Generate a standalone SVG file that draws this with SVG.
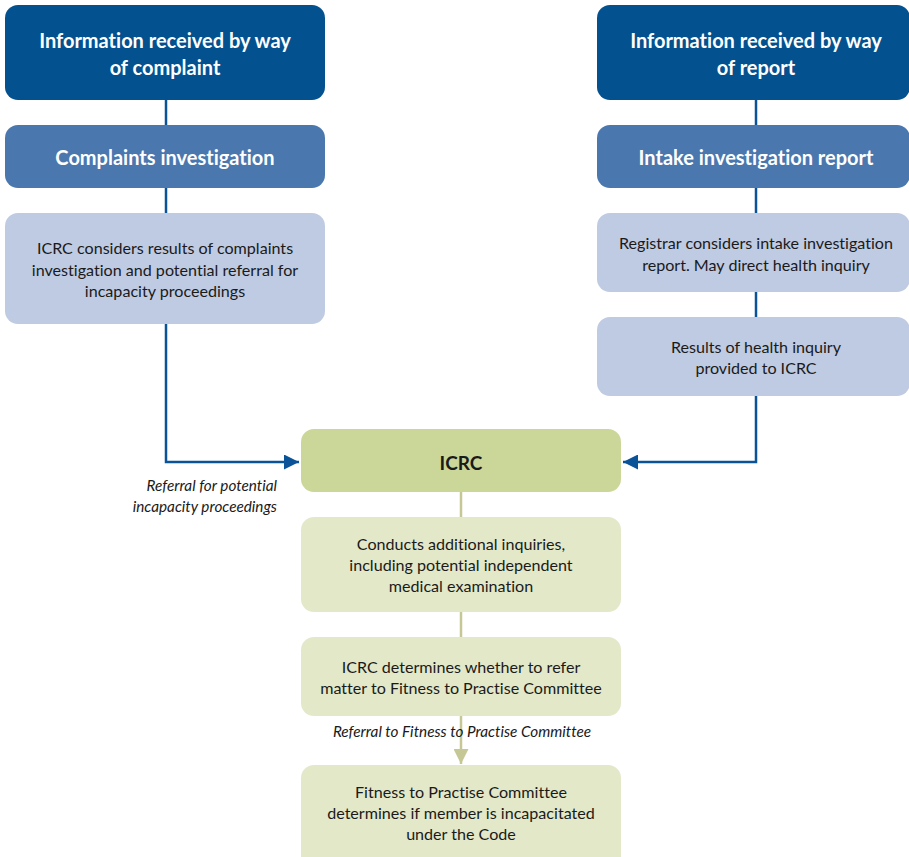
<svg xmlns="http://www.w3.org/2000/svg" width="909" height="857" viewBox="0 0 909 857">
  <defs>
    <style>
      .dark { fill: #03518F; }
      .mid { fill: #4A77AE; }
      .light { fill: #BFCBE2; }
      .icrc { fill: #CBD699; }
      .pale { fill: #E3E8C8; }
      text { font-family: Lato, "Liberation Sans", sans-serif; font-variant-ligatures: none; font-feature-settings: "liga" 0, "clig" 0; }
      .head { font-weight: bold; font-size: 20px; fill: #FFFFFF; text-anchor: middle; }
      .body { font-size: 16.1px; fill: #1A1A1A; text-anchor: middle; }
      .title { font-weight: bold; font-size: 19px; fill: #1A1A1A; text-anchor: middle; }
      .note { font-style: italic; font-size: 15.3px; fill: #1A1A1A; }
      .blue-line { stroke: #0A5399; stroke-width: 2.5; fill: none; }
      .green-line { stroke: #C5C895; stroke-width: 2.5; fill: none; }
    </style>
    <marker id="arrow-blue" viewBox="0 0 10 10" refX="10" refY="5" markerUnits="userSpaceOnUse" markerWidth="19" markerHeight="15" orient="auto">
      <path d="M0,0 L10,5 L0,10 Z" fill="#0A5399"/>
    </marker>
    <marker id="arrow-green" viewBox="0 0 10 10" refX="10" refY="5" markerUnits="userSpaceOnUse" markerWidth="19" markerHeight="15" orient="auto">
      <path d="M0,0 L10,5 L0,10 Z" fill="#C5C895"/>
    </marker>
  </defs>

  <rect width="909" height="857" fill="#FFFFFF"/>

  <!-- connectors -->
  <g id="connectors">
    <line class="blue-line" x1="166" y1="100" x2="166" y2="125"/>
    <line class="blue-line" x1="166" y1="188" x2="166" y2="213"/>
    <polyline class="blue-line" points="166,324 166,462 299,462" marker-end="url(#arrow-blue)"/>
    <line class="blue-line" x1="756" y1="100" x2="756" y2="125"/>
    <line class="blue-line" x1="756" y1="188" x2="756" y2="213"/>
    <line class="blue-line" x1="756" y1="292" x2="756" y2="317"/>
    <polyline class="blue-line" points="756,396 756,462 623,462" marker-end="url(#arrow-blue)"/>
    <line class="green-line" x1="461" y1="492" x2="461" y2="517"/>
    <line class="green-line" x1="461" y1="612" x2="461" y2="637"/>
    <line class="green-line" x1="461" y1="716" x2="461" y2="764" marker-end="url(#arrow-green)"/>
  </g>

  <!-- left column: complaint path -->
  <g id="complaint">
    <rect class="dark" x="5" y="5" width="320" height="95" rx="13"/>
    <text class="head" x="165" y="48">Information received by way</text>
    <text class="head" x="165" y="75">of complaint</text>
  </g>
  <g id="complaints-investigation">
    <rect class="mid" x="5" y="125" width="320" height="63" rx="13"/>
    <text class="head" x="165" y="165">Complaints investigation</text>
  </g>
  <g id="icrc-considers">
    <rect class="light" x="5" y="213" width="320" height="111" rx="13"/>
    <text class="body" x="165" y="254">ICRC considers results of complaints</text>
    <text class="body" x="165" y="276">investigation and potential referral for</text>
    <text class="body" x="165" y="297">incapacity proceedings</text>
  </g>

  <!-- right column: report path -->
  <g id="report">
    <rect class="dark" x="597" y="5" width="313" height="95" rx="13"/>
    <text class="head" x="756" y="48">Information received by way</text>
    <text class="head" x="756" y="75">of report</text>
  </g>
  <g id="intake-report">
    <rect class="mid" x="597" y="125" width="313" height="63" rx="13"/>
    <text class="head" x="756" y="165">Intake investigation report</text>
  </g>
  <g id="registrar">
    <rect class="light" x="597" y="213" width="313" height="79" rx="13"/>
    <text class="body" x="756" y="249">Registrar considers intake investigation</text>
    <text class="body" x="756" y="271">report. May direct health inquiry</text>
  </g>
  <g id="health-results">
    <rect class="light" x="597" y="317" width="313" height="79" rx="13"/>
    <text class="body" x="756" y="353">Results of health inquiry</text>
    <text class="body" x="756" y="374">provided to ICRC</text>
  </g>

  <!-- centre column: ICRC and committee -->
  <g id="icrc">
    <rect class="icrc" x="301" y="429" width="320" height="63" rx="13"/>
    <text class="title" x="461" y="470">ICRC</text>
  </g>
  <g id="referral-note">
    <text class="note" x="277" y="491" text-anchor="end">Referral for potential</text>
    <text class="note" x="277" y="512" text-anchor="end">incapacity proceedings</text>
  </g>
  <g id="additional-inquiries">
    <rect class="pale" x="301" y="517" width="320" height="95" rx="13"/>
    <text class="body" x="461" y="550">Conducts additional inquiries,</text>
    <text class="body" x="461" y="571">including potential independent</text>
    <text class="body" x="461" y="592">medical examination</text>
  </g>
  <g id="icrc-determines">
    <rect class="pale" x="301" y="637" width="320" height="79" rx="13"/>
    <text class="body" x="461" y="673">ICRC determines whether to refer</text>
    <text class="body" x="461" y="694">matter to Fitness to Practise Committee</text>
  </g>
  <g id="ftp-note">
    <text class="note" x="462" y="737" text-anchor="middle">Referral to Fitness to Practise Committee</text>
  </g>
  <g id="ftp-committee">
    <rect class="pale" x="301" y="765" width="320" height="105" rx="13"/>
    <text class="body" x="461" y="798">Fitness to Practise Committee</text>
    <text class="body" x="461" y="819">determines if member is incapacitated</text>
    <text class="body" x="461" y="840">under the Code</text>
  </g>
</svg>
